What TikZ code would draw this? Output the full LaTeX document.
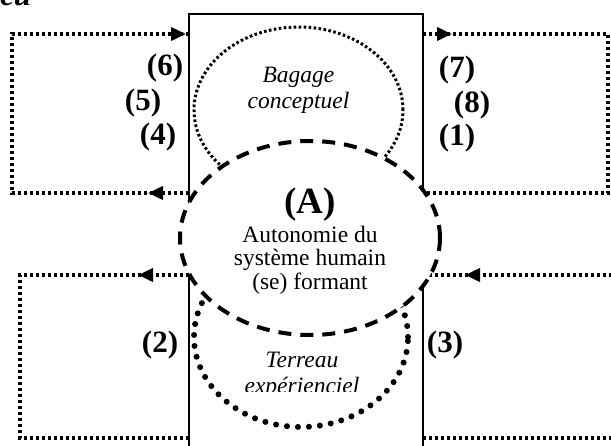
\documentclass[tikz,border=0pt]{standalone}
\usepackage{fontspec}
\setmainfont{Liberation Serif}
\usetikzlibrary{arrows.meta,shapes.geometric,decorations.markings}

\begin{document}
\begin{tikzpicture}[
  x=1pt, y=-1pt,
  frame/.style={draw=black, line width=1.7pt},
  loopline/.style={draw=black, line width=3.6pt, dash pattern=on 3.4pt off 2.6pt},
  arrowat/.style={postaction={decorate, decoration={markings,
      mark=at position #1 with {\arrow{Triangle[length=15pt,width=13pt]}}}}},
  bagage/.style={ellipse, draw=black, line width=3pt, dash pattern=on 2.6pt off 2.4pt,
                 minimum width=209pt, minimum height=166pt, inner sep=0pt},
  terreau/.style={ellipse, draw=black, line width=6pt, line cap=round, dash pattern=on 0pt off 11pt,
                  minimum width=214pt, minimum height=180pt, inner sep=0pt},
  autonomie/.style={ellipse, draw=black, fill=white, line width=4pt, dash pattern=on 13pt off 9pt,
                    minimum width=260pt, minimum height=194pt, inner sep=0pt},
  lbl/.style={font=\fontsize{31}{31}\selectfont\bfseries, inner sep=0pt},
  txt/.style={font=\fontsize{23.5}{23.5}\selectfont, align=center, inner sep=0pt},
  itxt/.style={txt, font=\fontsize{23.5}{23.5}\selectfont\itshape},
]
\useasboundingbox (0,0) rectangle (611,445);

% ---- feedback loops ----
\coordinate (tlout) at (189,193); \coordinate (tlsw) at (12,193);
\coordinate (tlnw) at (12,34);    \coordinate (tlin) at (189,34);
\coordinate (trout) at (423,34);  \coordinate (trne) at (608,34);
\coordinate (trse) at (608,193);  \coordinate (trin) at (423,193);
\coordinate (blout) at (189,275); \coordinate (blnw) at (20,275);
\coordinate (blsw) at (20,438);   \coordinate (blin) at (189,438);
\coordinate (brout) at (423,438); \coordinate (brse) at (640,438);
\coordinate (brne) at (640,275);  \coordinate (brin) at (423,275);

\draw[loopline, arrowat=41pt, arrowat=-3pt] (tlout) -- (tlsw) -- (tlnw) -- (tlin);
\draw[loopline, arrowat=29pt] (trout) -- (trne) -- (trse) -- (trin);
\draw[loopline, arrowat=51pt] (blout) -- (blnw) -- (blsw) -- (blin);
\draw[loopline, arrowat=-42pt] (brout) -- (brse) -- (brne) -- (brin);

% ---- central column ----
\draw[frame] (189,14) rectangle (423,470);
\node[bagage] (bag) at (298.5,110) {};
\node[terreau] (ter) at (301,337) {};
\node[autonomie] (auto) at (310,238) {};

% ---- texts ----
\node[lbl, anchor=base west, font=\fontsize{31}{31}\selectfont\bfseries\itshape] (milieu) at (0,5) {eu};
\node[itxt, anchor=north] (bagtxt) at (298.5,67) {Bagage\\[2pt]conceptuel};
\node[txt, anchor=north] (autotxt) at (310,188)
     {{\fontsize{37}{37}\selectfont\bfseries (A)}\\[3pt]Autonomie du\\système humain\\(se) formant};
\begin{scope}
  \clip (190,340) rectangle (420,391.5);
  \node[itxt, anchor=north] (tertxt) at (302,352) {Terreau\\[2pt]expérienciel};
\end{scope}

\node[lbl] (l6) at (165,68)  {(6)};
\node[lbl] (l5) at (143,103) {(5)};
\node[lbl] (l4) at (158,137) {(4)};
\node[lbl] (l7) at (457,70)  {(7)};
\node[lbl] (l8) at (472,105) {(8)};
\node[lbl] (l1) at (457,138) {(1)};
\node[lbl] (l2) at (160,345) {(2)};
\node[lbl] (l3) at (445,345) {(3)};
\end{tikzpicture}
\end{document}
